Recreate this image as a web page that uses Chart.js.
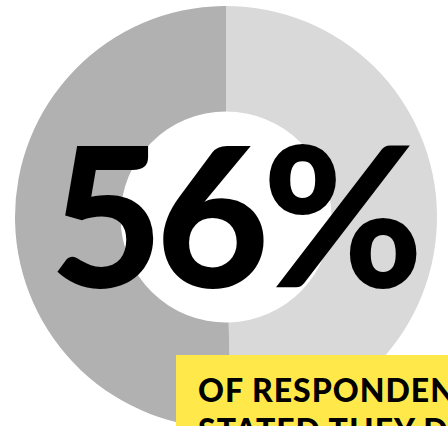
<!DOCTYPE html>
<html>
<head>
<meta charset="utf-8">
<script src="https://cdn.jsdelivr.net/npm/chart.js@4"></script>
<style>
    html, body { margin: 0; padding: 0; background: #fff; overflow: hidden; }
    #wrap { position: relative; width: 448px; height: 426px; overflow: hidden; }
    #box { position: absolute; left: 0; top: 0; width: 448px; height: 432px; }
    #big {
        position: absolute; left: 50px; top: 115px;
        font-family: "Lato"; font-weight: 900; font-size: 195px; line-height: 1;
        letter-spacing: -7px; color: #000; white-space: nowrap;
    }
    #note {
        position: absolute; left: 176px; top: 355px; width: 320px; height: 120px;
        background: #ffe94a; box-sizing: border-box; padding: 15px 0 0 22px;
        font-family: "Lato"; font-weight: 900; font-size: 32px; line-height: 40px;
        letter-spacing: 1px; color: #000; white-space: nowrap;
    }
</style>
</head>
<body>
<div id="wrap">
    <div id="box"><canvas id="donut"></canvas></div>
    <div id="big">56%</div>
    <div id="note">OF RESPONDENTS<br>STATED THEY D</div>
</div>
<script>
const labels = ['Other', 'Respondents'];
const shares = [49.6, 50.4];
const colors = ['#d9d9d9', '#b1b1b1'];

const ctx = document.getElementById('donut').getContext('2d');
new Chart(ctx, {
    type: 'doughnut',
    data: {
        labels: labels,
        datasets: [{
            data: shares,
            backgroundColor: colors,
            borderWidth: 0
        }]
    },
    options: {
        responsive: true,
        maintainAspectRatio: false,
        animation: false,
        cutout: '50%',
        layout: { padding: { left: 15, right: 11, top: 6, bottom: 4 } },
        plugins: {
            legend: { display: false },
            tooltip: { enabled: false }
        }
    }
});
</script>
</body>
</html>
